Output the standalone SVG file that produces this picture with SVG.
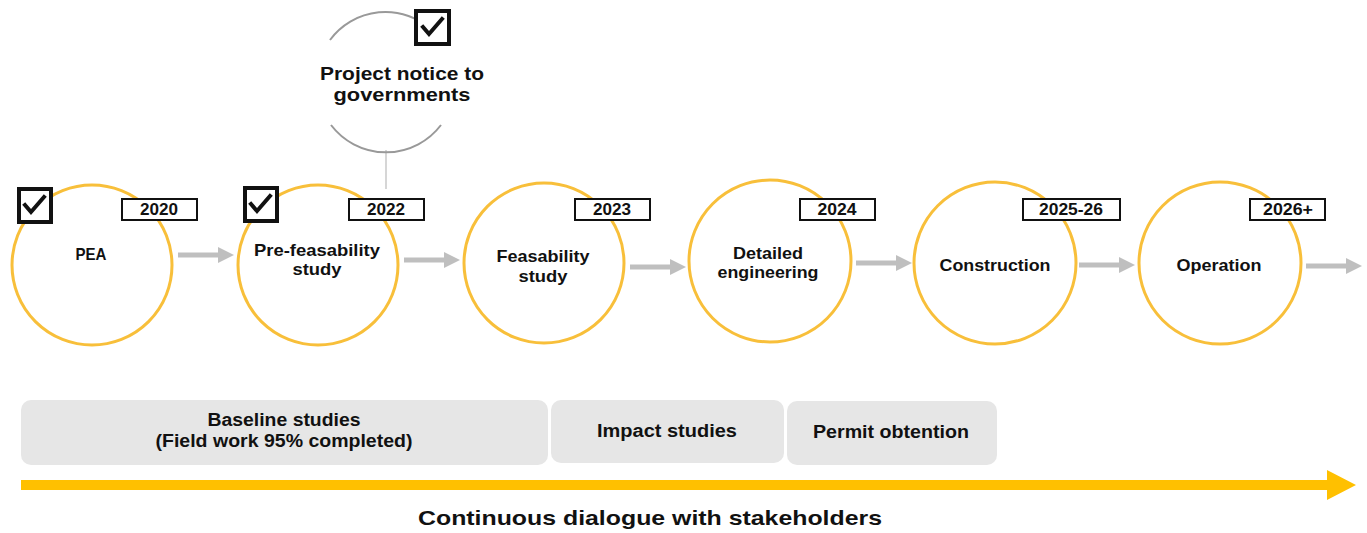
<svg xmlns="http://www.w3.org/2000/svg" width="1367" height="533" viewBox="0 0 1367 533">
<style>
text{font-family:"Liberation Sans",Arial,sans-serif;font-weight:bold;fill:#111;text-anchor:middle}
.stage{fill:#fff;stroke:#F8BF3A;stroke-width:3}
.yr{fill:#fff;stroke:#111;stroke-width:2}
.yt{font-size:16px}
.lbl{font-size:17px}
.chk{fill:#fff;stroke:#111;stroke-width:4}
.tick{fill:none;stroke:#111;stroke-width:4;stroke-linecap:square}
.conn{stroke:#BFBFBF;stroke-width:5;fill:none}
.band{fill:#E6E6E6}
.bt{font-size:18px}
</style>
<defs>
<marker id="ga" markerUnits="userSpaceOnUse" markerWidth="16" markerHeight="16" refX="0" refY="8" orient="auto"><path d="M0,0 L16,8 L0,16 Z" fill="#BFBFBF"/></marker>
</defs>
<g id="connectors">
<line class="conn" x1="178" y1="255" x2="218" y2="255" marker-end="url(#ga)"/>
<line class="conn" x1="404" y1="260" x2="444" y2="260" marker-end="url(#ga)"/>
<line class="conn" x1="630" y1="267" x2="670" y2="267" marker-end="url(#ga)"/>
<line class="conn" x1="856" y1="263" x2="896" y2="263" marker-end="url(#ga)"/>
<line class="conn" x1="1079" y1="265" x2="1119" y2="265" marker-end="url(#ga)"/>
<line class="conn" x1="1306" y1="266" x2="1346" y2="266" marker-end="url(#ga)"/>
<line x1="386" y1="150" x2="386" y2="189" stroke="#C8C8C8" stroke-width="1.5"/>
</g>
<g id="notice">
<path d="M330,40 A69,69 0 0 1 432,30" fill="none" stroke="#999" stroke-width="2"/>
<path d="M331,125 A69,69 0 0 0 441,125" fill="none" stroke="#999" stroke-width="2"/>
<rect class="chk" x="416" y="11" width="33" height="33"/>
<path class="tick" d="M423,27 L429,34 L442,19"/>
<text x="402" y="80" font-size="19" textLength="164" lengthAdjust="spacingAndGlyphs">Project notice to</text>
<text x="402" y="101" font-size="19" textLength="137" lengthAdjust="spacingAndGlyphs">governments</text>
</g>
<g id="pea">
<circle class="stage" cx="92" cy="265" r="80"/>
<rect class="yr" x="122" y="199" width="75" height="21"/>
<text class="yt" x="159" y="215" textLength="38" lengthAdjust="spacingAndGlyphs">2020</text>
<rect class="chk" x="19" y="189" width="32" height="33"/>
<path class="tick" d="M25,205 L31,212 L44,197"/>
<text class="lbl" x="91" y="260" textLength="31" lengthAdjust="spacingAndGlyphs">PEA</text>
</g>
<g id="prefeasibility">
<circle class="stage" cx="318" cy="265" r="80"/>
<rect class="yr" x="349" y="199" width="75" height="21"/>
<text class="yt" x="386" y="215" textLength="38" lengthAdjust="spacingAndGlyphs">2022</text>
<rect class="chk" x="245" y="188" width="32" height="33"/>
<path class="tick" d="M251,204 L257,211 L270,196"/>
<text class="lbl" x="317" y="256" textLength="126" lengthAdjust="spacingAndGlyphs">Pre-feasability</text>
<text class="lbl" x="317" y="275" textLength="49" lengthAdjust="spacingAndGlyphs">study</text>
</g>
<g id="feasibility">
<circle class="stage" cx="544" cy="263" r="80"/>
<rect class="yr" x="575" y="199" width="75" height="21"/>
<text class="yt" x="612" y="215" textLength="38" lengthAdjust="spacingAndGlyphs">2023</text>
<text class="lbl" x="543" y="262" textLength="93" lengthAdjust="spacingAndGlyphs">Feasability</text>
<text class="lbl" x="543" y="282" textLength="49" lengthAdjust="spacingAndGlyphs">study</text>
</g>
<g id="detailed">
<circle class="stage" cx="770" cy="261" r="81"/>
<rect class="yr" x="800" y="199" width="75" height="21"/>
<text class="yt" x="837" y="215" textLength="39" lengthAdjust="spacingAndGlyphs">2024</text>
<text class="lbl" x="768" y="259" textLength="70" lengthAdjust="spacingAndGlyphs">Detailed</text>
<text class="lbl" x="768" y="278" textLength="101" lengthAdjust="spacingAndGlyphs">engineering</text>
</g>
<g id="construction">
<circle class="stage" cx="995" cy="263" r="81"/>
<rect class="yr" x="1023" y="199" width="97" height="21"/>
<text class="yt" x="1071" y="215" textLength="64" lengthAdjust="spacingAndGlyphs">2025-26</text>
<text class="lbl" x="995" y="271" textLength="111" lengthAdjust="spacingAndGlyphs">Construction</text>
</g>
<g id="operation">
<circle class="stage" cx="1220" cy="263" r="81"/>
<rect class="yr" x="1250" y="199" width="75" height="21"/>
<text class="yt" x="1288" y="215" textLength="50" lengthAdjust="spacingAndGlyphs">2026+</text>
<text class="lbl" x="1219" y="271" textLength="85" lengthAdjust="spacingAndGlyphs">Operation</text>
</g>
<g id="baseline">
<rect class="band" x="21" y="400" width="527" height="65" rx="10"/>
<text class="bt" x="284" y="426" textLength="153" lengthAdjust="spacingAndGlyphs">Baseline studies</text>
<text class="bt" x="284" y="447" textLength="257" lengthAdjust="spacingAndGlyphs">(Field work 95% completed)</text>
</g>
<g id="impact">
<rect class="band" x="551" y="400" width="233" height="63" rx="10"/>
<text class="bt" x="667" y="437" textLength="140" lengthAdjust="spacingAndGlyphs">Impact studies</text>
</g>
<g id="permit">
<rect class="band" x="787" y="401" width="210" height="64" rx="10"/>
<text class="bt" x="891" y="438" textLength="156" lengthAdjust="spacingAndGlyphs">Permit obtention</text>
</g>
<g id="dialogue">
<path d="M21,480 L1327,480 L1327,470 L1356,485 L1327,500 L1327,490 L21,490 Z" fill="#FFC000"/>
<text x="650" y="525" font-size="21" textLength="464" lengthAdjust="spacingAndGlyphs">Continuous dialogue with stakeholders</text>
</g>
</svg>
